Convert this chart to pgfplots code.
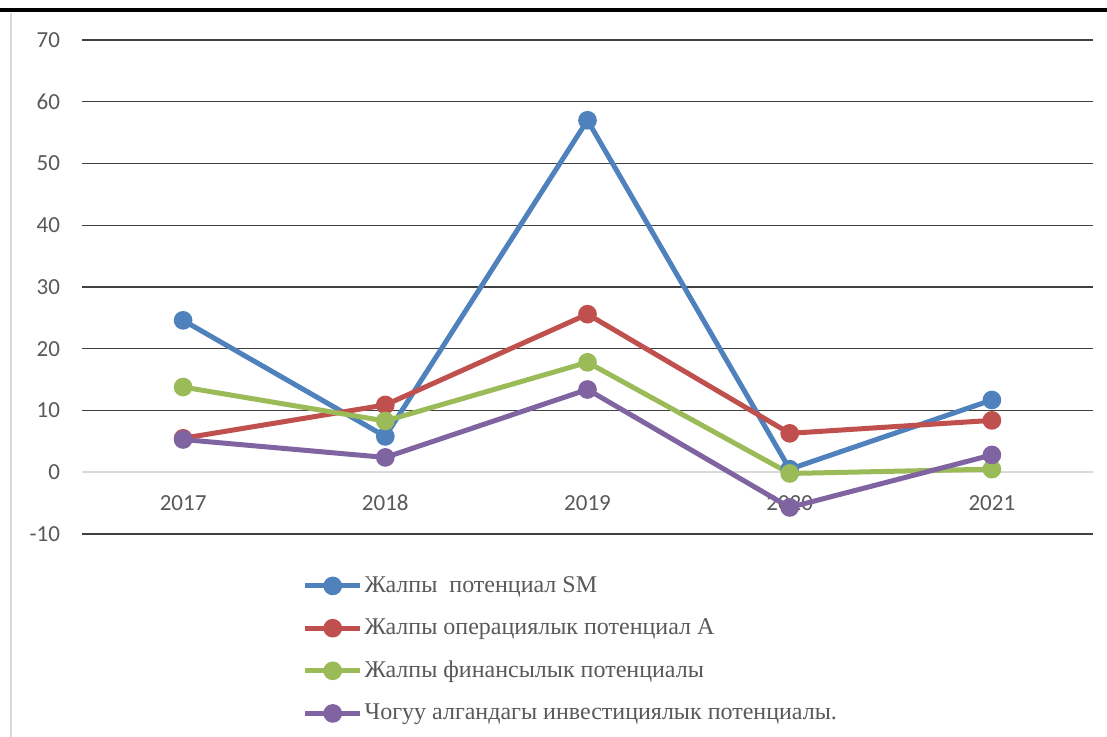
\documentclass[border=0pt]{standalone}
\usepackage{pgfplots}
\pgfplotsset{compat=1.18}
\usepackage{fontspec}
\setmainfont{Carlito}
\newfontfamily\legfont{Liberation Serif}
\definecolor{sblue}{HTML}{4F81BD}
\definecolor{sred}{HTML}{C0504D}
\definecolor{sgreen}{HTML}{9BBB59}
\definecolor{spurple}{HTML}{8064A2}
\definecolor{txtgray}{HTML}{595959}
\begin{document}
\begin{tikzpicture}
\useasboundingbox (0,0) rectangle (553.5pt,368.5pt);
\fill[white] (0,0) rectangle (553.5pt,368.5pt);
\draw[line width=1.8pt] (0,363.5pt) -- (553.5pt,363.5pt);
\draw[black!15, line width=1pt] (5.5pt,362pt) -- (5.5pt,0pt);
\begin{axis}[
  at={(41pt,101.5pt)}, anchor=south west,
  scale only axis, width=505.5pt, height=247pt,
  xmin=-0.5, xmax=4.5, ymin=-10, ymax=70,
  axis x line=middle, axis y line=left,
  axis line style={-},
  y axis line style={draw=none},
  x axis line style={draw=black!15, line width=1pt},
  xtick={0,1,2,3,4},
  xticklabels={2017,2018,2019,2020,2021},
  ytick={-10,0,10,20,30,40,50,60,70},
  yticklabels={-10,0,10,20,30,40,50,60,70},
  extra y ticks={-10,10,20,30,40,50,60,70},
  extra y tick labels={},
  extra y tick style={grid=major, major grid style={black!75, line width=0.6pt}},
  major tick length=0pt,
  tick label style={font=\fontsize{11.5}{13}\selectfont, text=txtgray},
  xticklabel style={yshift=-8pt, text height=7.5pt, text depth=0pt},
  yticklabel style={xshift=-7.5pt},
  clip=false,
  legend style={at={(0.212,-0.069)}, anchor=north west, draw=none, fill=none,
    font=\legfont\fontsize{12}{14}\selectfont, text=txtgray, row sep=7.7pt,
    nodes={inner xsep=1pt}},
  legend cell align=left,
  legend image code/.code={\draw[mark repeat=2,mark phase=2] plot coordinates {(0pt,0pt)(13.75pt,0pt)(27.5pt,0pt)};},
  every axis plot/.append style={line width=2.5pt, mark=*, mark size=3.4pt, mark options={solid}},
]
\addplot[color=sblue] coordinates {(0,24.6) (1,5.8) (2,57.0) (3,0.5) (4,11.7)};
\addlegendentry{Жалпы\ \ потенциал SM}
\addplot[color=sred] coordinates {(0,5.5) (1,10.9) (2,25.6) (3,6.3) (4,8.4)};
\addlegendentry{Жалпы операциялык потенциал А}
\addplot[color=sgreen] coordinates {(0,13.8) (1,8.3) (2,17.8) (3,-0.2) (4,0.5)};
\addlegendentry{Жалпы финансылык потенциалы}
\addplot[color=spurple] coordinates {(0,5.3) (1,2.4) (2,13.4) (3,-5.7) (4,2.8)};
\addlegendentry{Чогуу алгандагы инвестициялык потенциалы.}
\end{axis}
\end{tikzpicture}
\end{document}
